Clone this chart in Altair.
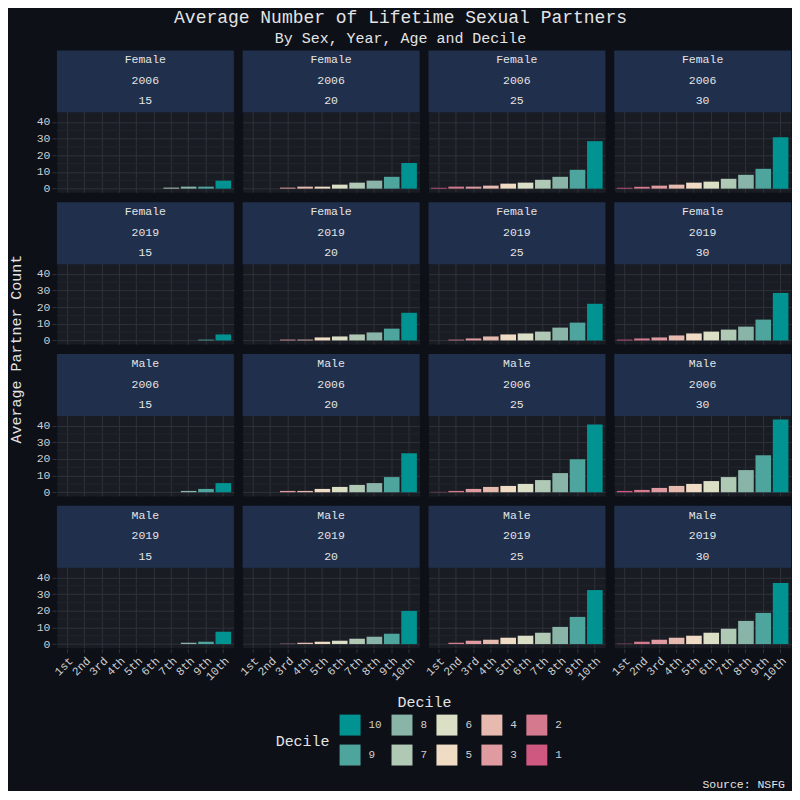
import altair as alt
import pandas as pd

FONT = "Liberation Mono"
BG = "#0d1017"
PANEL = "#191c23"
STRIP = "#1f2f4c"
MAJOR = "#2f3239"
MINOR = "#22252c"
TXT = "#e4e4e4"
AXTXT = "#cfcfcf"

DECILE_LABELS = ["1st", "2nd", "3rd", "4th", "5th", "6th", "7th", "8th", "9th", "10th"]
ROW_SEX = ["Female", "Female", "Male", "Male"]
ROW_YEAR = [2006, 2019, 2006, 2019]
AGES = [15, 20, 25, 30]
Y_TICKS = [0, 10, 20, 30, 40]
Y_MINOR = [5, 15, 25, 35]

F2006_15 = [0, 0, 0, 0, 0, 0, 0.6, 1.2, 1.2, 4.8]
F2006_20 = [0, 0, 0.6, 1.2, 1.2, 2.4, 3.6, 4.8, 7.1, 15.4]
F2006_25 = [0.5, 1.2, 1.2, 1.8, 3.0, 3.6, 5.3, 7.1, 11.3, 28.5]
F2006_30 = [0.5, 1.1, 1.8, 2.4, 3.6, 4.2, 5.9, 8.3, 11.9, 30.9]
F2019_15 = [0, 0, 0, 0, 0, 0, 0, 0, 0.5, 3.6]
F2019_20 = [0, 0, 0.5, 0.5, 1.8, 2.4, 3.6, 4.8, 7.1, 16.6]
F2019_25 = [0, 0.5, 1.2, 2.4, 3.6, 4.2, 5.3, 7.7, 10.7, 22.0]
F2019_30 = [0.5, 1.2, 1.8, 3.0, 4.2, 5.3, 6.5, 8.3, 12.5, 28.5]
M2006_15 = [0, 0, 0, 0, 0, 0, 0, 0.8, 2.0, 5.5]
M2006_20 = [0, 0, 0.8, 0.8, 2.0, 3.2, 4.4, 5.5, 9.1, 23.4]
M2006_25 = [0.2, 0.8, 2.0, 3.2, 3.8, 5.0, 7.3, 11.5, 19.8, 40.6]
M2006_30 = [0.8, 1.4, 2.6, 3.8, 5.0, 6.7, 9.1, 13.3, 22.2, 43.6]
M2019_15 = [0, 0, 0, 0, 0, 0, 0, 0.8, 1.4, 7.4]
M2019_20 = [0, 0, 0.2, 0.8, 1.4, 2.0, 3.2, 4.4, 6.2, 19.9]
M2019_25 = [0, 0.8, 2.0, 2.6, 3.8, 5.0, 6.8, 10.3, 16.3, 32.4]
M2019_30 = [0.2, 1.4, 2.6, 3.8, 5.0, 6.8, 9.2, 13.9, 18.7, 36.6]

PANEL_ROWS = [
    [F2006_15, F2006_20, F2006_25, F2006_30],
    [F2019_15, F2019_20, F2019_25, F2019_30],
    [M2006_15, M2006_20, M2006_25, M2006_30],
    [M2019_15, M2019_20, M2019_25, M2019_30],
]

LEGEND_ORDER = [10, 8, 6, 4, 2, 9, 7, 5, 3, 1]
DECILE_COLORS = {
    1: "#cf5880", 2: "#d57a8e", 3: "#df9ba0", 4: "#e7bab0", 5: "#f0dbc4",
    6: "#dbdfc5", 7: "#b0c9b5", 8: "#88b5a8", 9: "#4ea59d", 10: "#009392",
}

records = []
for sex, year, row in zip(ROW_SEX, ROW_YEAR, PANEL_ROWS):
    for age, vals in zip(AGES, row):
        for i, v in enumerate(vals):
            records.append({
                "Sex": sex, "Year": str(year), "Age": age, "AgeS": str(age),
                "rowkey": f"{sex} {year}", "dnum": i + 1,
                "dlabel": DECILE_LABELS[i], "value": v,
            })
df = pd.DataFrame(records)
ROWKEYS = [f"{s} {y}" for s, y in zip(ROW_SEX, ROW_YEAR)]

W = 177
COL_GAP = 7
STRIP_H = 62
PLOT_H = 80
H = STRIP_H + PLOT_H
YMIN = -2.18
YMAX = YMIN + 47.96 * H / PLOT_H
GRID_W = 4 * W + 3 * COL_GAP

base = alt.Chart()
first = "datum.dnum == 1"

minor = [
    base.mark_rule(color=MINOR, strokeWidth=1).encode(y=alt.datum(v)).transform_filter(first)
    for v in Y_MINOR
]

bars = base.mark_bar().encode(
    x=alt.X("dlabel:N", sort=DECILE_LABELS,
            scale=alt.Scale(paddingInner=0.1, paddingOuter=0.15),
            axis=alt.Axis(title=None, labelAngle=315, grid=True, gridColor=MAJOR,
                          bandPosition=0.5, domain=False, tickColor=MAJOR, tickSize=4,
                          labelFont=FONT, labelFontSize=11.5, labelColor=AXTXT, labelPadding=2,
                          labelOverlap=False, minExtent=0)),
    y=alt.Y("value:Q", scale=alt.Scale(domain=[YMIN, YMAX], nice=False, zero=False),
            axis=alt.Axis(title=None, values=Y_TICKS, tickCount=len(Y_TICKS), grid=True,
                          gridColor=MAJOR, domain=False, tickColor=MAJOR, tickSize=4,
                          labelOverlap=False, labelFont=FONT, labelFontSize=11.5,
                          labelColor=AXTXT, labelPadding=2, minExtent=0)),
    y2=alt.datum(0),
    color=alt.Color("dnum:N",
                    scale=alt.Scale(domain=LEGEND_ORDER, range=[DECILE_COLORS[d] for d in LEGEND_ORDER]),
                    legend=alt.Legend(title="Decile", orient="none", legendX=219, legendY=665,
                                      direction="horizontal", columns=5, symbolType="square",
                                      symbolSize=441, symbolStrokeWidth=0, labelFont=FONT,
                                      labelFontSize=11, labelColor=AXTXT, labelOffset=8,
                                      titleOrient="left", titleAnchor="middle", titleFont=FONT,
                                      titleFontSize=15, titleColor=TXT, titleFontWeight="normal",
                                      titlePadding=9, columnPadding=9, rowPadding=9)),
)

strip = base.mark_rect(color=STRIP).encode(
    x=alt.value(0), x2=alt.value(W), y=alt.value(0), y2=alt.value(STRIP_H)
).transform_filter(first)

texts = [
    base.mark_text(font=FONT, fontSize=11.5, color=TXT, baseline="middle").encode(
        text=alt.Text(f"{field}:N"), x=alt.value(W / 2), y=alt.value(yy)
    ).transform_filter(first)
    for field, yy in [("Sex", 10), ("Year", 30.5), ("AgeS", 51)]
]

layer = alt.layer(*minor, bars, strip, *texts).properties(width=W, height=H)

facet = layer.facet(
    data=df,
    row=alt.Row("rowkey:N", sort=ROWKEYS,
                header=alt.Header(labels=False, title="Average Partner Count", titleFont=FONT,
                                  titleFontSize=15, titleColor=TXT, titleFontWeight="normal",
                                  titlePadding=2, labelPadding=0)),
    column=alt.Column("Age:O", sort=AGES,
                      header=alt.Header(labels=False, title="Decile", titleOrient="bottom",
                                        titleFont=FONT, titleFontSize=15, titleColor=TXT,
                                        titleFontWeight="normal", titlePadding=2, labelPadding=0)),
    spacing={"row": 8, "column": COL_GAP},
)

source = alt.Chart(pd.DataFrame({"t": ["Source: NSFG"]})).mark_text(
    font=FONT, fontSize=11.5, color=TXT, align="right", baseline="middle"
).encode(text="t:N", x=alt.value(GRID_W), y=alt.value(74)).properties(
    width=GRID_W, height=78, view=alt.ViewBackground(fill=BG, stroke="transparent")
)

chart = alt.vconcat(facet, source, spacing=0).properties(
    title=alt.Title(text="Average Number of Lifetime Sexual Partners",
                    subtitle="By Sex, Year, Age and Decile",
                    font=FONT, fontSize=18, fontWeight="normal", color=TXT,
                    subtitleFont=FONT, subtitleFontSize=15, subtitleColor=TXT,
                    subtitlePadding=4, anchor="middle", offset=4),
    background=BG,
    padding={"left": 0, "top": 0, "right": 0, "bottom": 0},
).configure_view(fill=PANEL, stroke="transparent").configure_axis(labelOverlap=False)

chart.save("out.html", embed_options={"renderer": "svg", "actions": False})
